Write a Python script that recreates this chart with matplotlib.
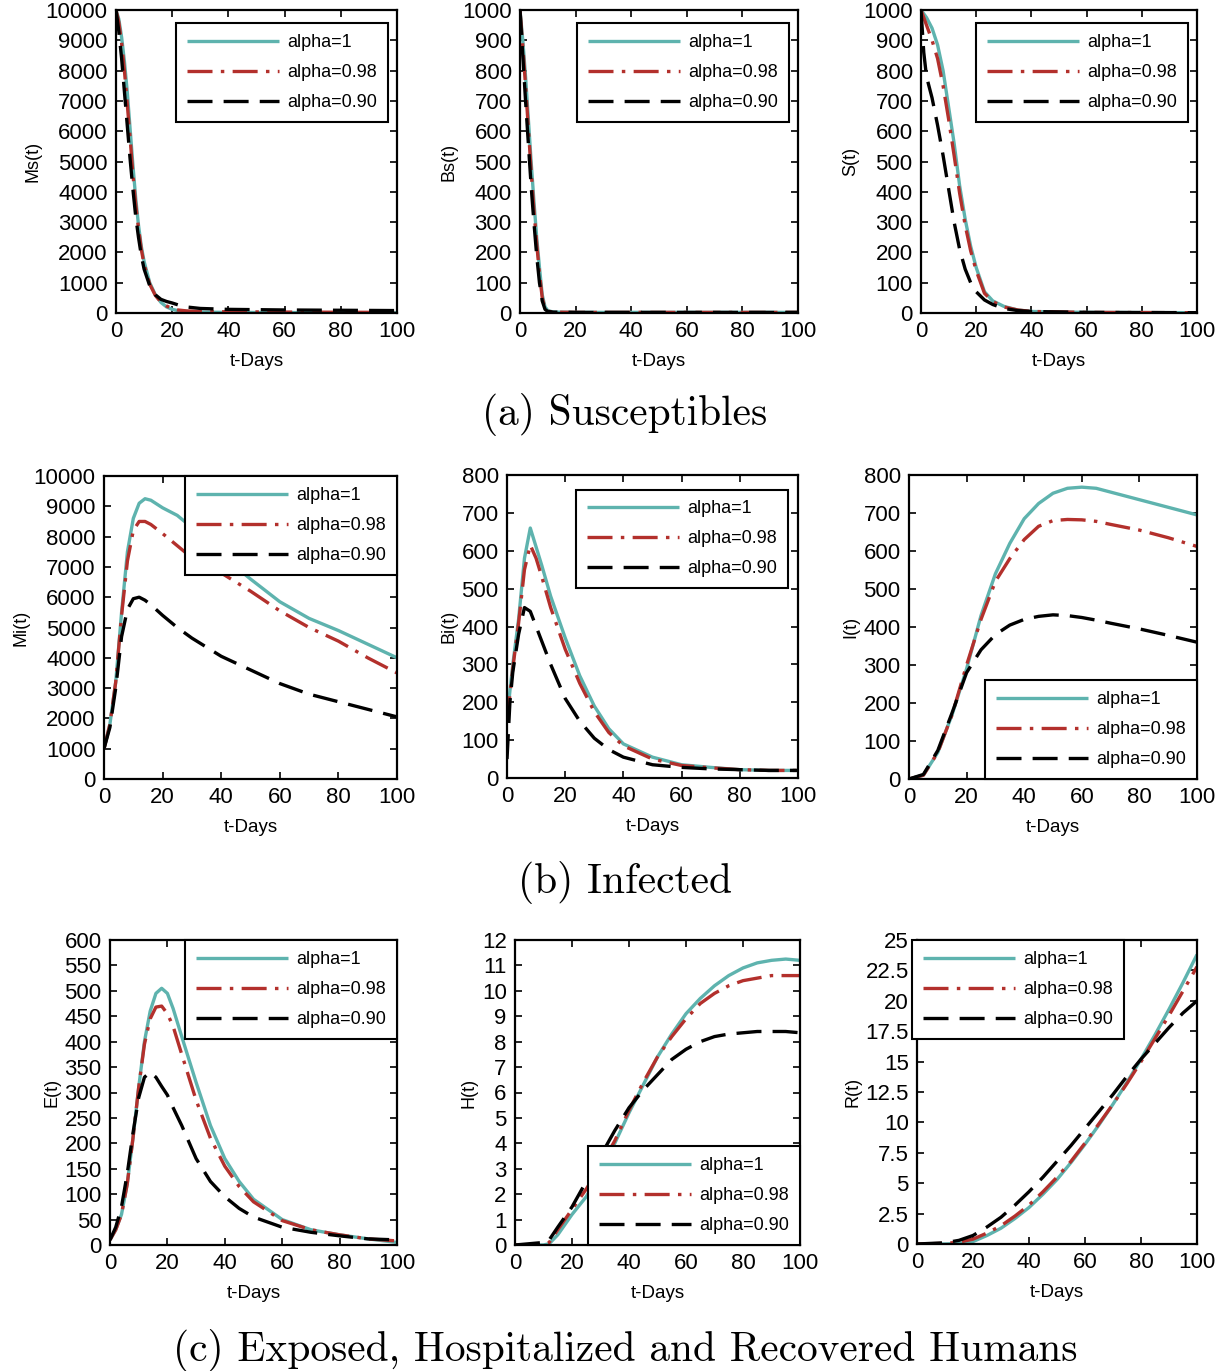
import matplotlib
matplotlib.use("Agg")
import matplotlib.pyplot as plt
from matplotlib.ticker import MultipleLocator, FormatStrFormatter

plt.rcParams['font.family'] = ['Liberation Sans', 'DejaVu Sans']
plt.rcParams['lines.scale_dashes'] = False

W, H = 1218, 1371
DPI = 100

labels = ["alpha=1", "alpha=0.98", "alpha=0.90"]
x_ticks = [0, 20, 40, 60, 80, 100]

# ---------------- (a) Susceptibles ----------------
t_ms = [0, 1, 2, 3, 4, 5, 6, 7, 8, 9, 10, 12, 14, 16, 18, 20, 22, 25, 30, 40, 60, 80, 100]
ms_a1 = [10000, 9700, 9100, 8300, 7300, 6100, 4900, 3800, 2900, 2200, 1700, 1000, 600, 350, 200, 120, 80, 50, 30, 20, 15, 10, 10]
ms_a098 = [10000, 9600, 8900, 8000, 6900, 5800, 4600, 3600, 2800, 2100, 1600, 950, 580, 360, 230, 150, 100, 70, 50, 40, 30, 25, 20]
ms_a090 = [10000, 9300, 8400, 7300, 6200, 5100, 4100, 3200, 2500, 1900, 1450, 900, 600, 450, 380, 330, 270, 200, 150, 120, 100, 90, 80]

t_bs = [0, 1, 2, 3, 4, 5, 6, 7, 8, 9, 10, 12, 20, 100]
bs_a1 = [1000, 900, 780, 640, 500, 370, 250, 150, 60, 20, 8, 3, 2, 2]
bs_a098 = [1000, 880, 750, 610, 470, 340, 230, 130, 50, 15, 6, 3, 2, 2]
bs_a090 = [1000, 850, 700, 560, 420, 300, 190, 100, 40, 12, 5, 3, 2, 2]

t_s = [0, 2, 4, 6, 8, 10, 12, 14, 16, 18, 20, 23, 26, 30, 35, 40, 60, 100]
s_a1 = [1000, 975, 940, 885, 800, 680, 560, 420, 310, 220, 150, 70, 40, 22, 10, 5, 2, 1]
s_a098 = [1000, 950, 900, 840, 750, 640, 520, 395, 290, 205, 140, 65, 38, 20, 10, 5, 2, 1]
t_s90 = [0, 1, 2, 4, 6, 8, 10, 12, 14, 16, 18, 20, 23, 26, 30, 35, 40, 60, 100]
s_a090 = [1000, 860, 780, 710, 620, 520, 410, 300, 210, 145, 100, 70, 43, 28, 15, 8, 5, 2, 1]

# ---------------- (b) Infected ----------------
t_mi = [0, 2, 4, 6, 8, 10, 12, 14, 16, 20, 25, 30, 40, 50, 60, 70, 80, 90, 100]
mi_a1 = [1000, 1800, 3200, 5500, 7500, 8600, 9100, 9250, 9200, 8950, 8700, 8300, 7400, 6600, 5850, 5300, 4900, 4450, 4000]
mi_a098 = [1000, 1800, 3200, 5400, 7200, 8200, 8500, 8500, 8400, 8100, 7700, 7300, 6800, 6200, 5550, 5000, 4550, 4000, 3500]
mi_a090 = [1000, 1700, 3000, 4700, 5600, 5950, 6000, 5900, 5750, 5400, 5000, 4650, 4050, 3600, 3150, 2800, 2550, 2300, 2050]

t_bi = [0, 1, 2, 4, 6, 8, 10, 12, 15, 20, 25, 30, 35, 40, 50, 60, 70, 80, 90, 100]
bi_a1 = [150, 230, 300, 420, 580, 660, 610, 560, 480, 370, 270, 190, 130, 90, 55, 35, 28, 22, 20, 20]
bi_a098 = [150, 220, 290, 410, 550, 615, 580, 530, 450, 340, 250, 175, 120, 85, 50, 33, 27, 22, 20, 20]
bi_a090 = [50, 200, 280, 380, 450, 440, 400, 360, 300, 210, 150, 105, 75, 55, 35, 28, 24, 22, 20, 20]

t_i = [0, 5, 10, 15, 20, 25, 30, 35, 40, 45, 50, 55, 60, 65, 70, 80, 90, 100]
i_a1 = [0, 10, 70, 170, 290, 430, 540, 620, 685, 725, 752, 765, 768, 765, 755, 735, 715, 695]
i_a098 = [0, 10, 70, 170, 300, 420, 520, 580, 630, 665, 680, 683, 682, 678, 670, 655, 635, 612]
i_a090 = [0, 12, 75, 175, 280, 340, 380, 405, 420, 428, 432, 430, 425, 418, 410, 395, 378, 360]

# ---------------- (c) Exposed, Hospitalized, Recovered ----------------
t_e = [0, 2, 4, 6, 8, 10, 12, 14, 16, 18, 20, 22, 25, 30, 35, 40, 45, 50, 60, 70, 80, 90, 100]
e_a1 = [10, 30, 60, 120, 210, 310, 400, 460, 495, 505, 495, 465, 410, 320, 235, 170, 125, 90, 50, 30, 20, 12, 5]
e_a098 = [10, 30, 60, 120, 210, 310, 395, 445, 468, 470, 455, 430, 375, 285, 210, 155, 115, 85, 48, 30, 20, 12, 8]
e_a090 = [10, 35, 75, 140, 220, 290, 330, 340, 330, 312, 295, 270, 235, 170, 125, 95, 72, 55, 35, 25, 18, 12, 10]

t_h = [0, 10, 12, 15, 20, 25, 30, 35, 40, 45, 50, 55, 60, 65, 70, 75, 80, 85, 90, 95, 100]
h_a1 = [0, 0, 0.05, 0.4, 1.2, 1.9, 2.9, 4.0, 5.2, 6.3, 7.4, 8.3, 9.1, 9.7, 10.2, 10.6, 10.9, 11.1, 11.2, 11.25, 11.2]
h_a098 = [0, 0, 0.1, 0.6, 1.4, 2.2, 3.1, 4.1, 5.3, 6.4, 7.4, 8.2, 8.9, 9.5, 9.9, 10.2, 10.4, 10.5, 10.6, 10.6, 10.6]
h_a090 = [0, 0.1, 0.2, 0.7, 1.5, 2.5, 3.5, 4.5, 5.4, 6.1, 6.7, 7.3, 7.7, 8.0, 8.2, 8.3, 8.35, 8.4, 8.4, 8.4, 8.35]

t_r = [0, 10, 15, 20, 25, 30, 35, 40, 45, 50, 55, 60, 65, 70, 75, 80, 85, 90, 95, 100]
r_a1 = [0, 0, 0.05, 0.2, 0.7, 1.3, 2.1, 3.0, 4.1, 5.3, 6.7, 8.2, 9.8, 11.5, 13.3, 15.2, 17.2, 19.3, 21.5, 23.8]
r_a098 = [0, 0.05, 0.15, 0.4, 0.9, 1.5, 2.3, 3.2, 4.3, 5.5, 6.8, 8.3, 9.9, 11.5, 13.2, 15.0, 16.9, 18.8, 20.8, 22.8]
r_a090 = [0, 0.1, 0.3, 0.7, 1.4, 2.2, 3.2, 4.3, 5.5, 6.8, 8.1, 9.5, 10.9, 12.3, 13.8, 15.2, 16.5, 17.8, 19.0, 20.0]

captions = ["(a) Susceptibles", "(b) Infected",
            "(c) Exposed, Hospitalized and Recovered Humans"]

COL1 = '#5eb3ae'
COL2 = '#b3302c'
COL3 = '#000000'
LW = 2.4

fig = plt.figure(figsize=(W / DPI, H / DPI), dpi=DPI)


def make_ax(l, r, t, b):
    return fig.add_axes([l / W, 1 - b / H, (r - l) / W, (b - t) / H])


panels = [
    ((116, 397, 10, 313), "Ms(t)", (t_ms, ms_a1), (t_ms, ms_a098), (t_ms, ms_a090), 10000, 1000, '%d', 'upper right', (0.968, 0.957)),
    ((520, 798, 10, 313), "Bs(t)", (t_bs, bs_a1), (t_bs, bs_a098), (t_bs, bs_a090), 1000, 100, '%d', 'upper right', (0.968, 0.957)),
    ((921, 1197, 10, 313), "S(t)", (t_s, s_a1), (t_s, s_a098), (t_s90, s_a090), 1000, 100, '%d', 'upper right', (0.968, 0.957)),
    ((104, 397, 476, 779), "Mi(t)", (t_mi, mi_a1), (t_mi, mi_a098), (t_mi, mi_a090), 10000, 1000, '%d', 'upper right', (1.0, 1.0)),
    ((507, 798, 475, 778), "Bi(t)", (t_bi, bi_a1), (t_bi, bi_a098), (t_bi, bi_a090), 800, 100, '%d', 'upper right', (0.966, 0.952)),
    ((909, 1197, 475, 779), "I(t)", (t_i, i_a1), (t_i, i_a098), (t_i, i_a090), 800, 100, '%d', 'lower right', (1.0, 0.0)),
    ((110, 397, 940, 1245), "E(t)", (t_e, e_a1), (t_e, e_a098), (t_e, e_a090), 600, 50, '%d', 'upper right', (1.0, 1.0)),
    ((515, 800, 940, 1245), "H(t)", (t_h, h_a1), (t_h, h_a098), (t_h, h_a090), 12, 1, '%d', 'lower right', (1.0, 0.0)),
    ((917, 1197, 940, 1244), "R(t)", (t_r, r_a1), (t_r, r_a098), (t_r, r_a090), 25, 2.5, '%g', 'upper left', (-0.018, 1.0)),
]

for rect, ylab, s1, s2, s3, ymax, ystep, fmt, loc, anchor in panels:
    ax = make_ax(*rect)
    ax.plot(s1[0], s1[1], color=COL1, lw=LW, solid_capstyle='butt', label=labels[0])
    ax.plot(s2[0], s2[1], color=COL2, lw=LW, dashes=(18, 6, 2.5, 6), label=labels[1])
    ax.plot(s3[0], s3[1], color=COL3, lw=LW, dashes=(18, 8), label=labels[2])
    ax.set_xlim(0, 100)
    ax.set_ylim(0, ymax)
    ax.set_xticks(x_ticks)
    ax.yaxis.set_major_locator(MultipleLocator(ystep))
    ax.yaxis.set_major_formatter(FormatStrFormatter(fmt))
    ax.tick_params(direction='in', top=True, right=True, length=5, width=1.2,
                   labelsize=16, pad=6)
    for sp in ax.spines.values():
        sp.set_linewidth(1.6)
    ax.set_ylabel(ylab, fontsize=13, labelpad=3)
    ax.set_xlabel("t-Days", fontsize=13.5, labelpad=8)
    leg = ax.legend(loc=loc, bbox_to_anchor=anchor, fontsize=13, handlelength=5.1,
                    handletextpad=0.45, labelspacing=0.72, borderpad=0.6,
                    borderaxespad=0, fancybox=False, framealpha=1)
    leg.get_frame().set_edgecolor('black')
    leg.get_frame().set_linewidth(1.5)

cap_y = [415, 882, 1350]
for cy, cap in zip(cap_y, captions):
    fig.text(625 / W, 1 - cy / H, cap, ha='center', va='center',
             fontsize=29.8, family='cmr10')

fig.savefig("out.png", dpi=DPI)
